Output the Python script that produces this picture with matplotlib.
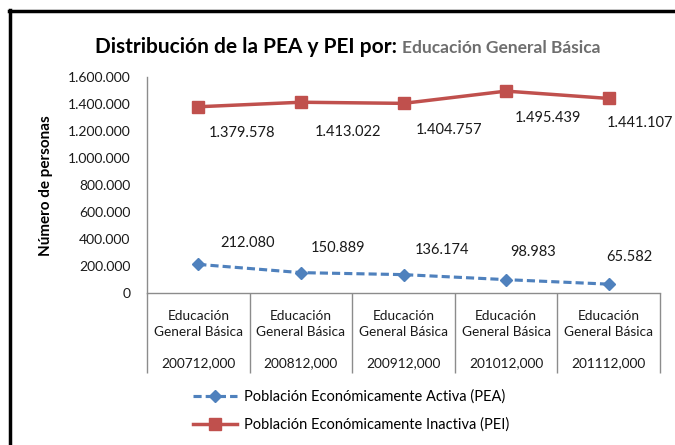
import matplotlib
matplotlib.use("Agg")
import matplotlib.pyplot as plt
from matplotlib.lines import Line2D
from matplotlib.ticker import FuncFormatter
import matplotlib.transforms as mtransforms

plt.rcParams["font.family"] = ["Lato", "DejaVu Sans"]

# ── Data ──────────────────────────────────────────────────────────────────────
categories = ["Educación\nGeneral Básica"] * 5
periods    = ["200712,000", "200812,000", "200912,000", "201012,000", "201112,000"]
pea_values = [212080, 150889, 136174, 98983, 65582]
pei_values = [1379578, 1413022, 1404757, 1495439, 1441107]
yticks     = [0, 200000, 400000, 600000, 800000, 1000000, 1200000, 1400000, 1600000]

# label offsets in pixels (dx, dy)
pea_offsets = [(49, 21), (37, 25), (39, 25), (27, 28), (21, 27)]
pei_offsets = [(44, -26), (47, -30), (46, -27), (42, -27), (31, -25)]

PEA_COLOR = "#4F81BD"
PEI_COLOR = "#C0504D"
GRID_GRAY = "#8C8C8C"
TXT = "#1a1a1a"
W, H = 675, 445


def fmt_dots(v, _=None):
    return f"{int(round(v)):,}".replace(",", ".")


fig = plt.figure(figsize=(W / 100, H / 100), dpi=100)
ax = fig.add_axes([147 / W, 1 - 293 / H, (660 - 147) / W, (293 - 77) / H])

xs = [i + 0.5 for i in range(len(periods))]
ax.plot(xs, pea_values, color=PEA_COLOR, linestyle=(0, (2.6, 1.3)), linewidth=2.25,
        marker="D", markersize=6, label="Población Económicamente Activa (PEA)")
ax.plot(xs, pei_values, color=PEI_COLOR, linewidth=2.5,
        marker="s", markersize=9, label="Población Económicamente Inactiva (PEI)")

for x, v, (dx, dy) in zip(xs, pea_values, pea_offsets):
    ax.annotate(fmt_dots(v), (x, v), xytext=(dx, dy), textcoords="offset pixels",
                ha="center", va="center", fontsize=10.5, color=TXT, annotation_clip=False)
for x, v, (dx, dy) in zip(xs, pei_values, pei_offsets):
    ax.annotate(fmt_dots(v), (x, v), xytext=(dx, dy), textcoords="offset pixels",
                ha="center", va="center", fontsize=10.5, color=TXT, annotation_clip=False)

ax.set_xlim(0, len(periods))
ax.set_ylim(0, 1600000)
ax.set_yticks(yticks)
ax.yaxis.set_major_formatter(FuncFormatter(fmt_dots))
ax.tick_params(axis="y", length=0, pad=12, labelsize=10, labelcolor=TXT)

# category dividers as long x ticks
ax.set_xticks(range(len(periods) + 1))
ax.set_xticklabels([])
ax.tick_params(axis="x", length=80 * 0.72, width=1, color=GRID_GRAY, direction="out")

for s in ["top", "right"]:
    ax.spines[s].set_visible(False)
for s in ["left", "bottom"]:
    ax.spines[s].set_color(GRID_GRAY)
    ax.spines[s].set_linewidth(1)

# category labels
for x, cat, per in zip(xs, categories, periods):
    tr1 = mtransforms.offset_copy(ax.transData, fig=fig, x=0, y=-31, units="dots")
    ax.text(x, 0, cat, transform=tr1, ha="center", va="center",
            fontsize=9.8, color=TXT, linespacing=1.35)
    tr2 = mtransforms.offset_copy(ax.transData, fig=fig, x=0, y=-70, units="dots")
    ax.text(x, 0, per, transform=tr2, ha="center", va="center",
            fontsize=9.8, color=TXT)

ax.set_ylabel("Número de personas", fontsize=11, fontweight="bold")
ax.yaxis.set_label_coords(53 / W, 1 - 186 / H, transform=fig.transFigure)

# title in two parts
t1 = fig.text(95 / W, 1 - 53 / H, "Distribución de la PEA y PEI por: ",
              fontsize=15, fontweight="bold", color="#000000", va="baseline", ha="left")
fig.canvas.draw()
bb = t1.get_window_extent()
fig.text(bb.x1 / W, 1 - 53 / H, "Educación General Básica",
         fontsize=12.5, fontweight="bold", color="#6E6E6E", va="baseline", ha="left")

# legend
handles, labels = ax.get_legend_handles_labels()
fig.legend(handles, labels, loc="upper left", bbox_to_anchor=(186 / W, 1 - 382 / H),
           frameon=False, fontsize=10.5, handlelength=3.0, handletextpad=0.5,
           labelspacing=0.95, borderpad=0)

# outer frame (left and top edges visible)
fig.add_artist(Line2D([9.5 / W, 9.5 / W], [0, 1 - 10 / H], transform=fig.transFigure,
                      color="black", linewidth=2.5))
fig.add_artist(Line2D([8.5 / W, 1], [1 - 11 / H, 1 - 11 / H], transform=fig.transFigure,
                      color="black", linewidth=2.5))

fig.savefig("out.png", dpi=100)
